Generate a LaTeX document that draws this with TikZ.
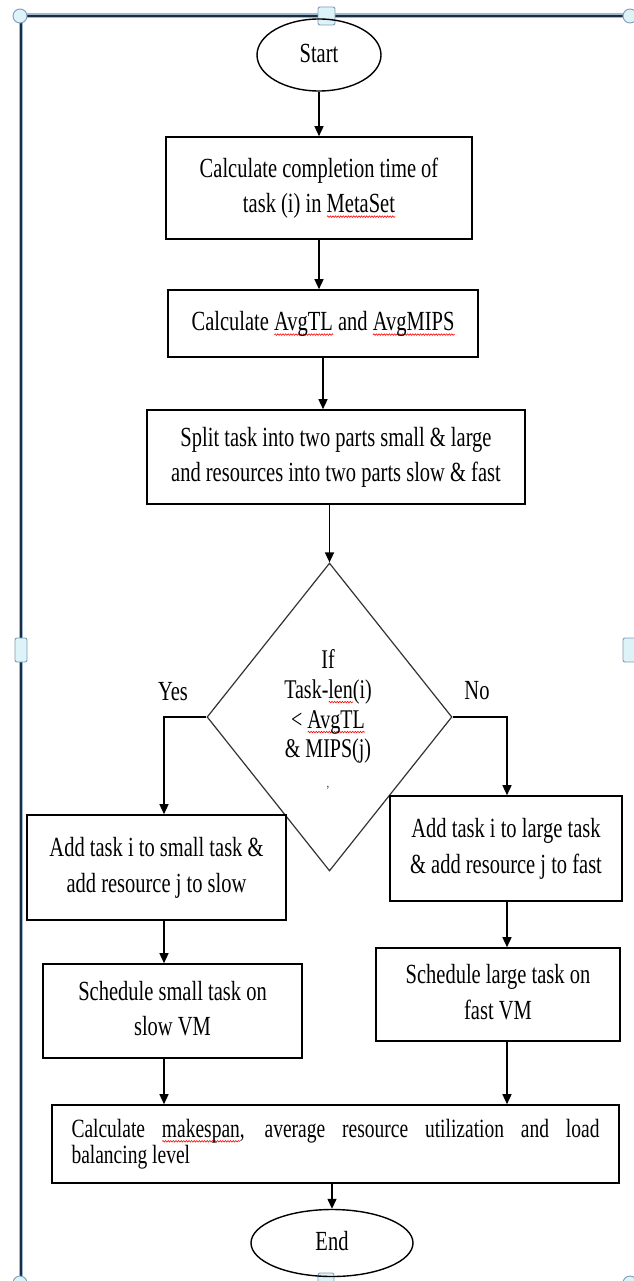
\documentclass[tikz,border=0pt]{standalone}
\usepackage{fontspec}
\setmainfont{Liberation Serif}
\usepackage{graphicx}
\usetikzlibrary{arrows.meta,shapes.geometric,calc,decorations.pathmorphing}
\newsavebox{\rwbox}
\newcommand\rw[1]{\sbox{\rwbox}{#1}\rlap{\tikz[baseline=0pt]\draw[red,line width=0.5pt,decorate,decoration={snake,amplitude=0.6pt,segment length=2.6pt}] (0pt,-3pt) -- (\wd\rwbox,-3pt);}\usebox{\rwbox}}
\newcommand{\tx}[1]{\scalebox{1}[1.35]{\fontsize{20.5}{26}\selectfont\begin{tabular}{@{}c@{}}#1\end{tabular}}}
\definecolor{navy}{HTML}{1A2C44}
\definecolor{framelt}{HTML}{9FB9D3}
\definecolor{hfill}{HTML}{DDF3F8}
\definecolor{hdraw}{HTML}{7F9DBB}
\begin{document}
\begin{tikzpicture}[x=1pt,y=-1pt,
  boxnode/.style={draw, line width=1.6pt, inner sep=0pt, align=center},
  term/.style={ellipse, draw, line width=1.4pt, inner sep=0pt},
  dec/.style={diamond, draw=black!80, line width=1.2pt, inner sep=0pt},
  arr/.style={line width=1.4pt, -{Triangle[length=10pt,width=9pt]}},
  hdl/.style={fill=hfill, draw=hdraw, line width=0.9pt},
  lbl/.style={inner sep=0pt}]
\useasboundingbox (0,0) rectangle (633,1281);
\fill[white] (0,0) rectangle (633,1281);
% frame
\draw[framelt, line width=5pt] (20,16) -- (630,16);
\draw[navy, line width=2.8pt] (20,16) -- (630,16);
\draw[framelt, line width=3.5pt] (21,16) -- (21,1281);
\draw[navy, line width=1.8pt] (21,16) -- (21,1281);
\draw[hdl] (20,16) circle (7pt);
\draw[hdl] (630,16) circle (7pt);
\draw[hdl, rounded corners=2pt] (318,7) rectangle (335,25);
\draw[hdl, rounded corners=2pt] (15,638) rectangle (27,662);
\draw[hdl, rounded corners=2pt] (623,638) rectangle (636,662);
\draw[hdl] (20,1283) circle (7pt);
\draw[hdl, rounded corners=2pt] (318,1273) rectangle (334,1290);
\draw[hdl] (630,1283) circle (7pt);
% nodes
\node[term, minimum width=124pt, minimum height=72pt] (s) at (319,55) {\tx{Start}};
\node[boxnode, minimum width=306pt, minimum height=102pt] (b1) at (319,188)
  {\tx{Calculate completion time of\\task (i) in \rw{MetaSet}}};
\node[boxnode, minimum width=310pt, minimum height=67pt] (b2) at (323,323.5)
  {\tx{Calculate \rw{AvgTL} and \rw{AvgMIPS}}};
\node[boxnode, minimum width=378pt, minimum height=94pt] (b3) at (336,457)
  {\tx{Split task into two parts small \& large\\and resources into two parts slow \& fast}};
\node[dec, minimum width=245pt, minimum height=308pt] (d) at (329.5,717) {};
\node[lbl] (dt) at (328,722) {\scalebox{1}[1.35]{\fontsize{20}{22.2}\selectfont\begin{tabular}{@{}c@{}}If\\Task-\rw{len}(i)\\< \rw{AvgTL}\\\& MIPS(j)\\{\fontsize{9}{9}\selectfont ,}\end{tabular}}};
\node[boxnode, minimum width=259pt, minimum height=105pt] (lb1) at (156.5,867.5)
  {\tx{Add task i to small task \&\\add resource j to slow}};
\node[boxnode, minimum width=259pt, minimum height=94pt] (lb2) at (172.5,1011)
  {\tx{Schedule small task on\\slow VM}};
\node[boxnode, minimum width=232pt, minimum height=105pt] (rb1) at (506,848.5)
  {\tx{Add task i to large task\\\& add resource j to fast}};
\node[boxnode, minimum width=244pt, minimum height=93pt] (rb2) at (498,994.5)
  {\tx{Schedule large task on\\fast VM}};
\node[boxnode, minimum width=567pt, minimum height=78pt] (f) at (335.5,1144)
  {\scalebox{1}[1.35]{\parbox{528pt}{\fontsize{19.5}{19.3}\selectfont Calculate \rw{makespan}, average resource utilization and load\linebreak balancing level}}};
\node[term, minimum width=162pt, minimum height=67pt] (e) at (332,1243) {\tx{End}};
\node[lbl] (yes) at (173,693) {\tx{Yes}};
\node[lbl] (no) at (477,692) {\tx{No}};
\coordinate (lx) at (164,0);
\coordinate (rx) at (507,0);
% connectors
\draw[arr] (s.south) -- (s.south |- b1.north);
\draw[arr] (b1.south) -- (b1.south |- b2.north);
\draw[arr] (b2.south) -- (b2.south |- b3.north);
\draw[arr] (b3.south -| d.north) -- (d.north);
\draw[arr] (d.west) -| (lb1.north -| lx);
\draw[arr] (lb1.south -| lx) -- (lb2.north -| lx);
\draw[arr] (lb2.south -| lx) -- (f.north -| lx);
\draw[arr] (d.east) -| (rb1.north -| rx);
\draw[arr] (rb1.south -| rx) -- (rb2.north -| rx);
\draw[arr] (rb2.south -| rx) -- (f.north -| rx);
\draw[arr] (f.south -| e.north) -- (e.north);
\end{tikzpicture}
\end{document}
